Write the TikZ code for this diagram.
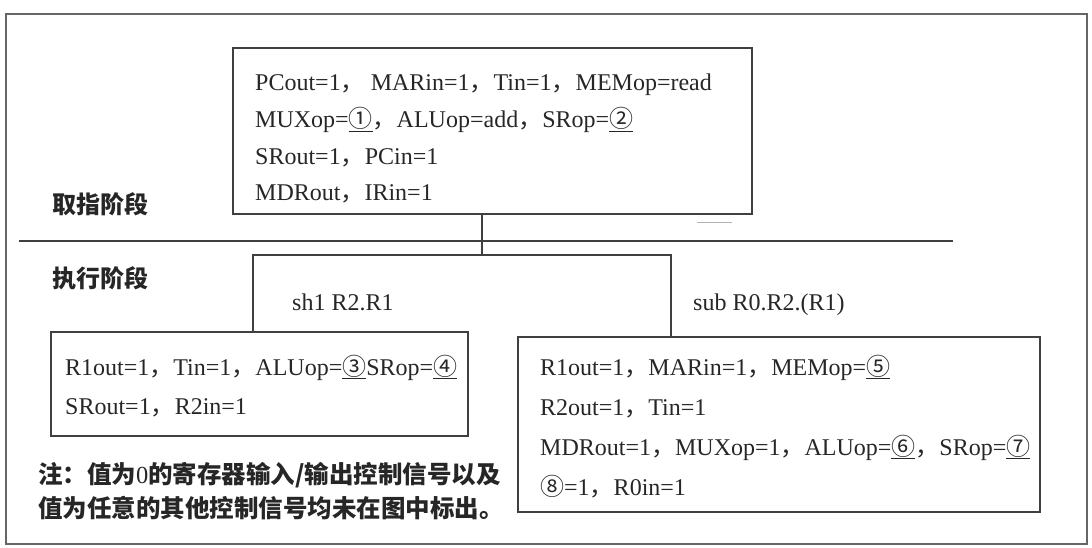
\documentclass[tikz,border=0pt]{standalone}
\usepackage{fontspec}
\setmainfont{Liberation Serif}
\newfontfamily\cjk{Noto Sans CJK SC}
\newcommand\cn[1]{\underline{{\cjk #1}}}
\newcommand\dou{{\cjk ，}}

\begin{document}
\begin{tikzpicture}[x=1pt,y=-1pt,
    line/.style={draw=black!75,line width=1.3pt},
    box/.style={line,rectangle,inner sep=0pt},
    txt/.style={inner sep=0pt,align=left,text=black!85,anchor=north west},
    stage/.style={inner sep=0pt,anchor=base west,text=black!85,font=\cjk\bfseries\fontsize{24}{24}\selectfont},
    instr/.style={inner sep=0pt,anchor=base west,text=black!85,font=\fontsize{24}{24}\selectfont}]

    \useasboundingbox (0,0) rectangle (1092,548);
    \draw[line,draw=black!60] (6,14) rectangle (1087,544);

    % boxes
    \node[box,minimum width=519,minimum height=166] (fetch) at (492.5,131) {};
    \node[box,minimum width=417,minimum height=104] (shl) at (259.5,384) {};
    \node[box,minimum width=522,minimum height=175] (sub) at (779,424.5) {};

    \node[txt,font=\fontsize{24}{36.7}\selectfont] (fetchtxt) at (255,70.5)
        {\rule{0pt}{20pt}PCout=1\dou\ MARin=1\dou Tin=1\dou MEMop=read\\
         MUXop=\cn{①}\dou ALUop=add\dou SRop=\cn{②}\\
         SRout=1\dou PCin=1\\
         MDRout\dou IRin=1};
    \node[txt,font=\fontsize{24}{39}\selectfont] (shltxt) at (65,354.5)
        {\rule{0pt}{20pt}R1out=1\dou Tin=1\dou ALUop=\cn{③}SRop=\cn{④}\\
         SRout=1\dou R2in=1};
    \node[txt,font=\fontsize{24}{40}\selectfont] (subtxt) at (540,354.5)
        {\rule{0pt}{20pt}R1out=1\dou MARin=1\dou MEMop=\cn{⑤}\\
         R2out=1\dou Tin=1\\
         MDRout=1\dou MUXop=1\dou ALUop=\cn{⑥}\dou SRop=\cn{⑦}\\
         {\cjk ⑧}=1\dou R0in=1};

    % labels
    \node[stage] (fetchlbl) at (52,214) {取指阶段};
    \node[stage] (execlbl) at (52,287) {执行阶段};
    \node[instr] (shllbl) at (292,310.5) {sh1 R2.R1};
    \node[instr] (sublbl) at (693,310.5) {sub R0.R2.(R1)};
    \node[txt,font=\cjk\bfseries\fontsize{24.5}{34}\selectfont] (note) at (38,462)
        {\rule{0pt}{20pt}注：值为{\rmfamily\mdseries 0}的寄存器输入/输出控制信号以及\\
         值为任意的其他控制信号均未在图中标出。};

    % stage line and branches
    \draw[line] (19,241) -- (953,241);
    \draw[black!30,line width=1pt] (697,223) -- (732,223);
    \coordinate (split) at (482,255);
    \coordinate (bl) at (253,255);
    \coordinate (br) at (671,255);
    \draw[line] (fetch.south -| split) -- (split);
    \draw[line] (shl.north -| bl) -- (bl) -- (br) -- (sub.north -| br);
\end{tikzpicture}
\end{document}
